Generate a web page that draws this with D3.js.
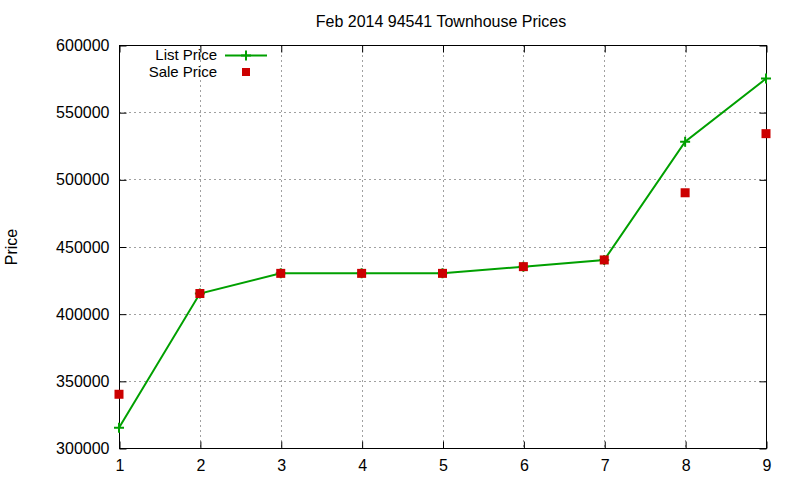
<!DOCTYPE html>
<html><head><meta charset="utf-8">
<script src="https://cdn.jsdelivr.net/npm/d3@7"></script>
<style>body{margin:0;background:#fff}svg{display:block}text{font-family:"Liberation Sans",Arial,sans-serif}</style>
</head><body>
<svg id="c" width="800" height="480"></svg>
<script>
const xValues = [1,2,3,4,5,6,7,8,9];
const listPrice = [315000,415000,430000,430000,430000,435000,440000,528000,575000];
const salePrice = [340000,415000,430000,430000,430000,435000,440000,490000,534000];
const yTicks = [300000,350000,400000,450000,500000,550000,600000];
const title = "Feb 2014 94541 Townhouse Prices";

const svg = d3.select("#c");
const L=119,R=766,T=45,B=448;
const x = d3.scaleLinear().domain([1,9]).range([L,R]);
const y = d3.scaleLinear().domain([300000,600000]).range([B,T]);

// grid
const g = svg.append("g");
g.selectAll(".gy").data(yTicks.slice(1,-1)).join("line")
 .attr("x1",L).attr("x2",R).attr("y1",d=>Math.round(y(d))+0.5).attr("y2",d=>Math.round(y(d))+0.5)
 .attr("stroke","#a0a0a0").attr("stroke-dasharray","2,3");
g.selectAll(".gx").data(xValues.slice(1,-1)).join("line")
 .attr("y1",T).attr("y2",B).attr("x1",d=>Math.round(x(d))+0.5).attr("x2",d=>Math.round(x(d))+0.5)
 .attr("stroke","#a0a0a0").attr("stroke-dasharray","2,3");

// axes
const yAxis = d3.axisLeft(y).tickValues(yTicks).tickSize(-7).tickPadding(10).tickFormat(d3.format("d"));
const yAxisR = d3.axisRight(y).tickValues(yTicks).tickSize(-7).tickFormat("");
const xAxis = d3.axisBottom(x).tickValues(xValues).tickSize(-7).tickPadding(11).tickFormat(d3.format("d"));
const xAxisT = d3.axisTop(x).tickValues(xValues).tickSize(-7).tickFormat("");
[[yAxis,`translate(${L+0.5},0.5)`],[yAxisR,`translate(${R+0.5},0.5)`],[xAxis,`translate(0.5,${B+0.5})`],[xAxisT,`translate(0.5,${T+0.5})`]].forEach(([a,t])=>{
  const ag = svg.append("g").attr("transform",t).call(a);
  ag.select(".domain").remove();
  ag.selectAll("line").attr("stroke","#000");
  ag.selectAll("text").attr("font-size",16).attr("fill","#000").style("font-family","Liberation Sans, Arial, sans-serif");
});
svg.append("rect").attr("x",L+0.5).attr("y",T+0.5).attr("width",R-L).attr("height",B-T)
 .attr("fill","none").attr("stroke","#000");

// list line
const line = d3.line().x((d,i)=>x(xValues[i])).y(d=>y(d));
svg.append("path").datum(listPrice).attr("d",line).attr("fill","none")
 .attr("stroke","#00a000").attr("stroke-width",2);
svg.selectAll(".lp").data(listPrice).join("path")
 .attr("transform",(d,i)=>`translate(${x(xValues[i])},${y(d)})`)
 .attr("d","M-5,0H5M0,-5V5").attr("stroke","#00a000").attr("stroke-width",2);
// sale squares
svg.selectAll(".sp").data(salePrice).join("rect")
 .attr("x",(d,i)=>x(xValues[i])-4.5).attr("y",d=>y(d)-4.5).attr("width",9).attr("height",9)
 .attr("fill","#cc0000");

// legend
svg.append("text").attr("x",217).attr("y",60).attr("text-anchor","end").attr("font-size",15).text("List Price");
svg.append("line").attr("x1",225).attr("x2",267).attr("y1",55.5).attr("y2",55.5).attr("stroke","#00a000").attr("stroke-width",2);
svg.append("path").attr("transform","translate(246,55.5)").attr("d","M-5,0H5M0,-5V5").attr("stroke","#00a000").attr("stroke-width",2);
svg.append("text").attr("x",217).attr("y",77).attr("text-anchor","end").attr("font-size",15).text("Sale Price");
svg.append("rect").attr("x",242).attr("y",68).attr("width",8).attr("height",8).attr("fill","#cc0000");

// title & label
svg.append("text").attr("x",441).attr("y",27).attr("text-anchor","middle").attr("font-size",16).text(title);
svg.append("text").attr("transform","translate(17,247) rotate(-90)").attr("text-anchor","middle").attr("font-size",16).text("Price");
</script>
</body></html>
